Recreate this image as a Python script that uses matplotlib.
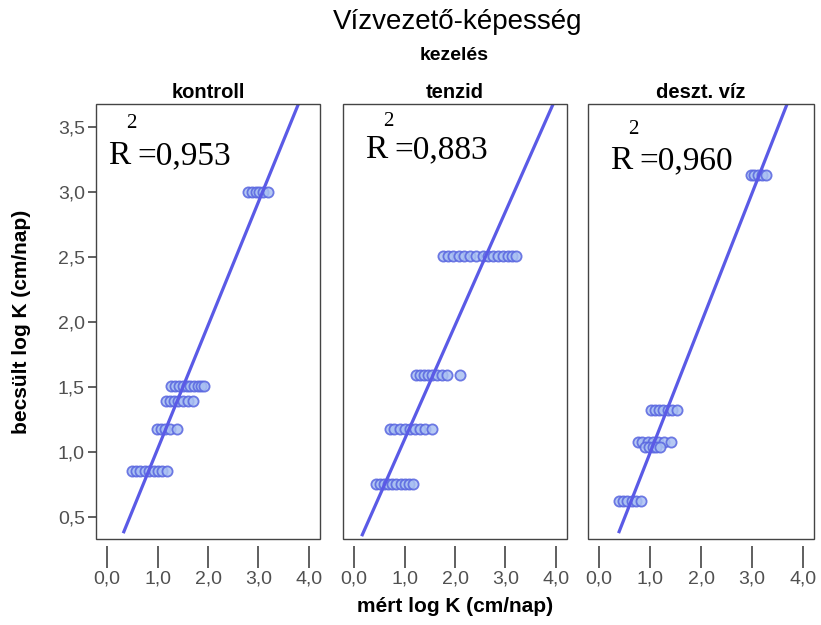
import matplotlib
matplotlib.use("Agg")
import matplotlib.pyplot as plt
from matplotlib.patches import Rectangle
import numpy as np

SANS = ['Liberation Sans', 'DejaVu Sans']
SERIF = ['Liberation Serif', 'DejaVu Serif']
plt.rcParams['font.family'] = SANS

# ---------------- data ----------------
panel_titles = ["kontroll", "tenzid", "deszt. víz"]
r2_labels = ["=0,953", "=0,883", "=0,960"]

kontroll_x = [2.80, 2.88, 2.95, 3.02, 3.10, 3.18,
              1.27, 1.35, 1.42, 1.50, 1.58, 1.65, 1.72, 1.80, 1.87, 1.93,
              1.16, 1.25, 1.33, 1.40, 1.50, 1.60, 1.71,
              0.98, 1.07, 1.15, 1.25, 1.38,
              0.49, 0.58, 0.66, 0.75, 0.83, 0.92, 1.00, 1.09, 1.18]
kontroll_y = [3.00] * 6 + [1.51] * 10 + [1.39] * 7 + [1.18] * 5 + [0.85] * 9

tenzid_x = [1.77, 1.87, 1.97, 2.07, 2.17, 2.30, 2.42, 2.55, 2.65, 2.75, 2.85, 2.95, 3.05, 3.13, 3.21,
            1.23, 1.30, 1.38, 1.46, 1.55, 1.65, 1.75, 1.85, 2.10,
            0.71, 0.80, 0.90, 1.00, 1.10, 1.20, 1.30, 1.40, 1.54,
            0.44, 0.52, 0.60, 0.68, 0.76, 0.84, 0.92, 1.00, 1.08, 1.17]
tenzid_y = [2.51] * 15 + [1.59] * 9 + [1.18] * 9 + [0.75] * 10

deszt_x = [2.98, 3.05, 3.12, 3.20, 3.27,
           1.02, 1.10, 1.18, 1.26, 1.35, 1.44, 1.53,
           0.77, 0.85, 0.95, 1.05, 1.15, 1.28, 1.41,
           0.90, 0.97, 1.05, 1.12, 1.20,
           0.38, 0.46, 0.55, 0.64, 0.73, 0.82]
deszt_y = [3.13] * 5 + [1.32] * 7 + [1.08] * 7 + [1.04] * 5 + [0.62] * 6

xs = [kontroll_x, tenzid_x, deszt_x]
ys = [kontroll_y, tenzid_y, deszt_y]

# fit lines (intercept, slope, start x)
fit_intercept = [0.07, 0.22, -0.004]
fit_slope = [0.952, 0.877, 0.998]
fit_start = [0.32, 0.15, 0.38]

x_ticks = [0.0, 1.0, 2.0, 3.0, 4.0]
x_ticklabels = ["0,0", "1,0", "2,0", "3,0", "4,0"]
y_ticks = [0.5, 1.0, 1.5, 2.0, 2.5, 3.0, 3.5]
y_ticklabels = ["0,5", "1,0", "1,5", "2,0", "2,5", "3,0", "3,5"]

XLIM = (-0.22, 4.22)
YLIM = (0.33, 3.68)

# ---------------- figure ----------------
W, H = 821, 625
fig = plt.figure(figsize=(W / 100, H / 100), dpi=100)

lefts = [96, 343, 588]
widths = [224, 224, 226]
top_px, bot_px = 104, 539

line_col = '#5a5ae6'
face_col = '#a9c0f2'
edge_col = '#5865e0'
tick_col = '#505050'

r_pos = [(108, 164, 131, 123, 137), (365, 158, 388, 121, 394), (610, 169, 633, 130, 639)]

for i in range(3):
    ax = fig.add_axes([lefts[i] / W, 1 - bot_px / H, widths[i] / W, (bot_px - top_px) / H])
    ax.set_xlim(*XLIM)
    ax.set_ylim(*YLIM)
    for s in ax.spines.values():
        s.set_visible(False)
    ax.add_patch(Rectangle((0, 0), 1, 1, transform=ax.transAxes, fill=False,
                           edgecolor='#444444', linewidth=1.0, clip_on=False, zorder=5))
    ax.spines['bottom'].set_position(('outward', 5))
    ax.set_xticks(x_ticks)
    ax.set_xticklabels(x_ticklabels)
    ax.tick_params(axis='x', direction='out', length=16, width=1.2, color='#444444',
                   labelsize=14, labelcolor=tick_col, pad=2)
    if i == 0:
        ax.set_yticks(y_ticks)
        ax.set_yticklabels(y_ticklabels)
        ax.tick_params(axis='y', direction='out', length=6, width=1.2, color='#444444',
                       labelsize=14, labelcolor=tick_col, pad=2)
    else:
        ax.set_yticks([])

    ax.scatter(xs[i], ys[i], s=54, facecolor=face_col, edgecolor=edge_col,
               linewidth=1.3, alpha=0.85, zorder=3)
    lx = np.array([fit_start[i], XLIM[1]])
    ax.plot(lx, fit_intercept[i] + fit_slope[i] * lx, color=line_col, lw=2.3, zorder=4,
            solid_capstyle='butt')

    # R^2 annotation
    rx, ry, sx, sy, ex = r_pos[i]
    fig.text(rx / W, 1 - ry / H, "R", family=SERIF, fontsize=24, ha='left', va='baseline')
    fig.text(sx / W, 1 - sy / H, "2", family=SERIF, fontsize=15, ha='center', va='center')
    fig.text(ex / W, 1 - ry / H, r2_labels[i], family=SERIF, fontsize=24, ha='left', va='baseline')

    fig.text((lefts[i] + widths[i] / 2) / W, 1 - 92 / H, panel_titles[i],
             fontsize=14.5, fontweight='bold', ha='center', va='center')

fig.text(458 / W, 1 - 22 / H, "Vízvezető-képesség", fontsize=20, ha='center', va='center')
fig.text(454 / W, 1 - 55 / H, "kezelés", fontsize=14, fontweight='bold', ha='center', va='center')
fig.text(455 / W, 1 - 607 / H, "mért log K (cm/nap)", fontsize=15, fontweight='bold',
         ha='center', va='center')
fig.text(22 / W, 1 - 322 / H, "becsült log K (cm/nap)", fontsize=15, fontweight='bold',
         ha='center', va='center', rotation=90)

fig.savefig("out.png", dpi=100)
